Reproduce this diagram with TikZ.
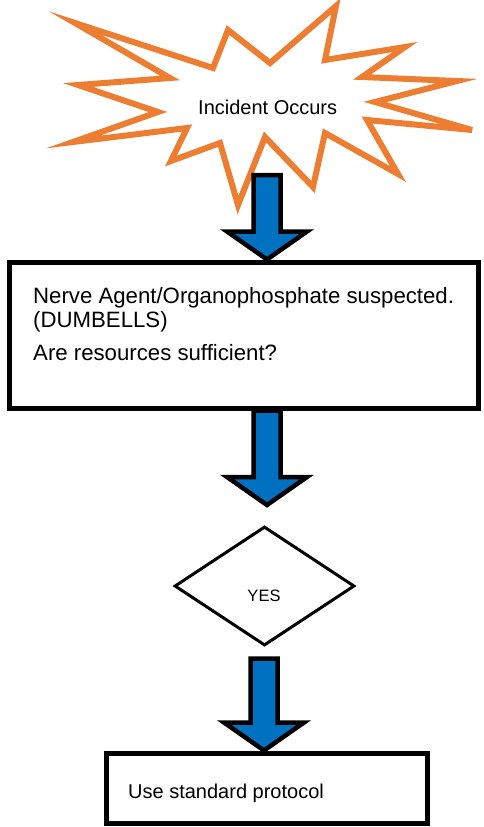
\documentclass[tikz,border=0pt]{standalone}
\usepackage{fontspec}
\setmainfont{Liberation Sans}
\usetikzlibrary{calc,shapes.geometric}
\definecolor{burst}{HTML}{ED7D31}
\definecolor{arrowblue}{HTML}{0070C0}
\tikzset{
  boxstyle/.style={draw=black, line width=5pt, fill=white, inner sep=0pt},
  barrow/.style={draw=black, line width=4.5pt, fill=arrowblue, line join=miter, miter limit=10},
  burststyle/.style={draw=burst, line width=6pt, fill=white, line join=miter, miter limit=10},
  txt/.style={inner sep=0pt, text=black}
}
\newcommand{\blockarrow}[3]{%
  \draw[barrow] let \p3=(#1,0), \p1=(#2), \p2=(#3) in
    (\x3-13.5pt,\y1) -- (\x3+13.5pt,\y1) -- (\x3+13.5pt,\y2+28pt) -- (\x3+40pt,\y2+28pt)
    -- (\x3,\y2) -- (\x3-40pt,\y2+28pt) -- (\x3-13.5pt,\y2+28pt) -- cycle;}
\begin{document}
\begin{tikzpicture}[x=1pt,y=-1pt]
\useasboundingbox (0,0) rectangle (483,827);
% starburst
\draw[burststyle] (336,6) -- (325,60) -- (405,47) -- (362,77) -- (457,81) -- (375,102)
  -- (472,130) -- (367,120) -- (398,174) -- (325,133) -- (313,187) -- (265,137)
  -- (238,205) -- (220,143) -- (171,161) -- (187,128) -- (73,142) -- (158,112)
  -- (78,85) -- (170,78) -- (75,23) -- (213,68) -- (228,30) -- (270,63) -- cycle;
\node[txt, anchor=base west, font=\fontsize{20pt}{24pt}\selectfont] (inc) at (198,114) {Incident Occurs};
\coordinate (s1) at (267,175);
% nodes
\node[boxstyle, minimum width=469pt, minimum height=146pt] (box1) at (243.5,335) {};
\node[draw=black, line width=3pt, fill=white, diamond, minimum width=180pt, minimum height=119pt, inner sep=0pt] (dia) at (264.5,586) {};
\node[boxstyle, minimum width=321pt, minimum height=70pt] (box2) at (266.5,788) {};
% arrows
\blockarrow{267}{s1}{box1.north}
\blockarrow{267}{box1.south}{$(dia.north)+(0,-20)$}
\blockarrow{264}{$(dia.south)+(0,11.5)$}{box2.north}
% boxes drawn again over the arrow ends
\node[boxstyle, minimum width=469pt, minimum height=146pt] (box1b) at (box1.center) {};
\node[boxstyle, minimum width=321pt, minimum height=70pt] (box2b) at (box2.center) {};
% texts
\node[txt, anchor=base west, font=\fontsize{22.2pt}{24pt}\selectfont] (t1) at (33,303) {Nerve Agent/Organophosphate suspected.};
\node[txt, anchor=base west, font=\fontsize{22.2pt}{24pt}\selectfont] (t2) at (33,327) {(DUMBELLS)};
\node[txt, anchor=base west, font=\fontsize{22.2pt}{24pt}\selectfont] (t3) at (33,360) {Are resources sufficient?};
\node[txt, anchor=base, font=\fontsize{16.5pt}{18pt}\selectfont] (yes) at (264,601) {YES};
\node[txt, anchor=base west, font=\fontsize{20pt}{24pt}\selectfont] (t4) at (128,798) {Use standard protocol};
\end{tikzpicture}
\end{document}
